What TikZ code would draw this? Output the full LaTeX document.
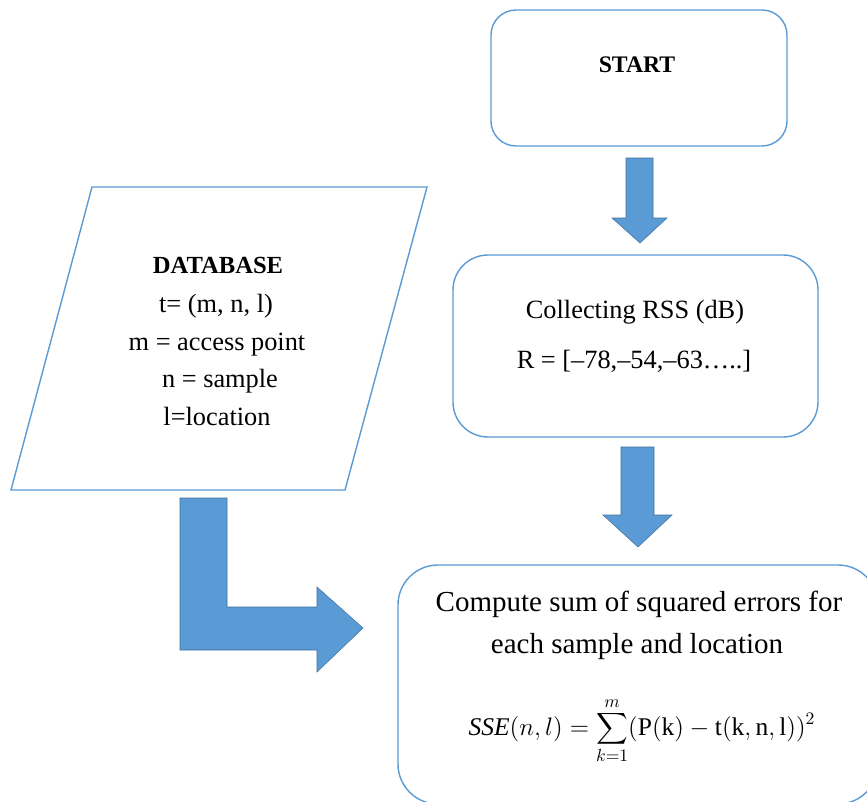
\documentclass[tikz,border=0pt]{standalone}
\usepackage{fontspec}
\setmainfont{Liberation Serif}
\definecolor{boxblue}{RGB}{91,155,213}
\definecolor{arrowblue}{RGB}{91,155,213}
\definecolor{arrowedge}{RGB}{65,113,156}
\begin{document}
\begin{tikzpicture}[x=0.02cm,y=-0.02cm,
  box/.style={draw=boxblue, line width=0.8pt},
  blockarrow/.style={fill=arrowblue, draw=arrowedge, line width=0.3pt},
  txt/.style={font=\fontsize{15}{18}\selectfont, inner sep=0pt, anchor=base},
  bigtxt/.style={font=\fontsize{16.5}{19}\selectfont, inner sep=0pt, anchor=base}]
\useasboundingbox (0,0) rectangle (867,802);
\clip (0,0) rectangle (867,802);
\fill[white] (0,0) rectangle (867,802);

% boxes
\draw[box, rounded corners=0.5cm] (491,10) rectangle (787,146);
\draw[box, rounded corners=0.7cm] (453,255) rectangle (818,437);
\draw[box, rounded corners=0.8cm] (398,565) rectangle (878,804);
\draw[box] (92,187) -- (427,187) -- (345,490) -- (11,490) -- cycle;

% START
\node[txt, font=\fontsize{13.5}{16}\selectfont\bfseries] (start) at (637,72) {START};

% DATABASE
\node[txt, font=\fontsize{14}{17}\selectfont\bfseries] (db1) at (218,273) {DATABASE};
\node[txt] (db2) at (216,312) {t= (m, n, l)};
\node[txt] (db3) at (217,350) {m = access point};
\node[txt] (db4) at (220,387) {n = sample};
\node[txt] (db5) at (217,425) {l=location};

% Collecting
\node[txt] (col1) at (635,318) {Collecting RSS (dB)};
\node[txt] (col2) at (634,368) {R = [–78,–54,–63…..]};

% Compute
\node[bigtxt] (cmp1) at (639,611) {Compute sum of squared errors for};
\node[bigtxt] (cmp2) at (637,653) {each sample and location};
\node[txt, font=\fontsize{14.5}{17}\selectfont] (cmp3) at (642,735) {$\displaystyle \mathit{SSE}(n,l)=\mathop{\vcenter{\hbox{\scalebox{1.25}{$\displaystyle\sum$}}}}\limits_{k=1}^{m}(\mathrm{P(k)}-\mathrm{t(k,n,l)})^2$};

% block arrows
\filldraw[blockarrow] (626,158) -- (653,158) -- (653,218) -- (667,218) -- (640,243) -- (612,218) -- (626,218) -- cycle;
\filldraw[blockarrow] (621,447) -- (654,447) -- (654,515) -- (672,515) -- (638,547) -- (603,515) -- (621,515) -- cycle;
\filldraw[blockarrow] (180,498) -- (227,498) -- (227,607) -- (317,607) -- (317,587) -- (363,628) -- (317,672) -- (317,650) -- (180,650) -- cycle;
\end{tikzpicture}
\end{document}
